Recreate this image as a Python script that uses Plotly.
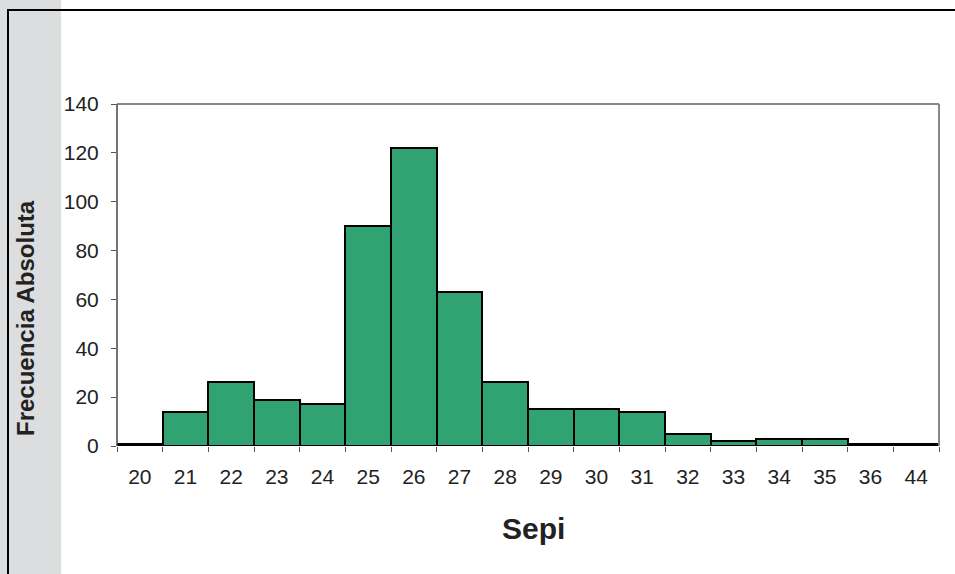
import plotly.graph_objects as go

# Frequency table of "Sepi"
categorias = ["20", "21", "22", "23", "24", "25", "26", "27", "28",
              "29", "30", "31", "32", "33", "34", "35", "36", "44"]
frecuencias = [1, 14, 26, 19, 17, 90, 122, 63, 26,
               15, 15, 14, 5, 2, 3, 3, 1, 1]

W, H = 955, 574
L, R, T, B = 117, 16, 104, 128
pw, ph = W - L - R, H - T - B


def px_x(x):
    return (x - L) / pw


def px_y(y):
    return (H - B - y) / ph


fig = go.Figure(
    go.Bar(
        x=categorias,
        y=frecuencias,
        marker=dict(color="#31a373", line=dict(color="#000000", width=2)),
        width=1.0,
    )
)

font_family = "Liberation Sans, Arial, sans-serif"

fig.update_layout(
    width=W,
    height=H,
    margin=dict(l=L, r=R, t=T, b=B),
    paper_bgcolor="#ffffff",
    plot_bgcolor="#ffffff",
    bargap=0,
    showlegend=False,
    font=dict(family=font_family, color="#222222", size=21),
    xaxis=dict(
        type="category",
        tickson="boundaries",
        ticks="outside",
        ticklen=5,
        tickcolor="#555555",
        tickfont=dict(size=21),
        ticklabelstandoff=16,
        showline=False,
        showgrid=False,
        zeroline=False,
        range=[-0.5, len(categorias) - 0.5],
    ),
    yaxis=dict(
        range=[0, 140],
        dtick=20,
        ticks="outside",
        ticklen=5,
        tickcolor="#555555",
        tickfont=dict(size=21),
        ticklabelstandoff=8,
        showline=False,
        showgrid=False,
        zeroline=False,
    ),
    shapes=[
        # grey band behind the axis title
        dict(type="rect", xref="paper", yref="paper",
             x0=px_x(0), x1=px_x(61), y0=px_y(H), y1=px_y(0),
             fillcolor="#dcdddf", line=dict(width=0), layer="below"),
        # outer frame (left and top edges)
        dict(type="line", xref="paper", yref="paper",
             x0=px_x(8), x1=px_x(8), y0=px_y(10), y1=px_y(H + 5),
             line=dict(color="#000000", width=2)),
        dict(type="line", xref="paper", yref="paper",
             x0=px_x(7), x1=px_x(W + 5), y0=px_y(10), y1=px_y(10),
             line=dict(color="#000000", width=2)),
        # plot area border
        dict(type="line", xref="paper", yref="paper",
             x0=0, x1=1, y0=1, y1=1,
             line=dict(color="#888888", width=2)),
        dict(type="line", xref="paper", yref="paper",
             x0=1, x1=1, y0=0, y1=1,
             line=dict(color="#888888", width=2)),
        dict(type="line", xref="paper", yref="paper",
             x0=0, x1=0, y0=0, y1=1,
             line=dict(color="#444444", width=1.5)),
    ],
    annotations=[
        dict(text="<b>Frecuencia Absoluta</b>", xref="paper", yref="paper",
             x=px_x(25), y=px_y(318), textangle=-90, showarrow=False,
             font=dict(size=24, color="#222222"),
             xanchor="center", yanchor="middle"),
        dict(text="<b>Sepi</b>", xref="paper", yref="paper",
             x=px_x(533), y=px_y(528), showarrow=False,
             font=dict(size=30, color="#222222"),
             xanchor="center", yanchor="middle"),
    ],
)

fig.write_html("out.html")
